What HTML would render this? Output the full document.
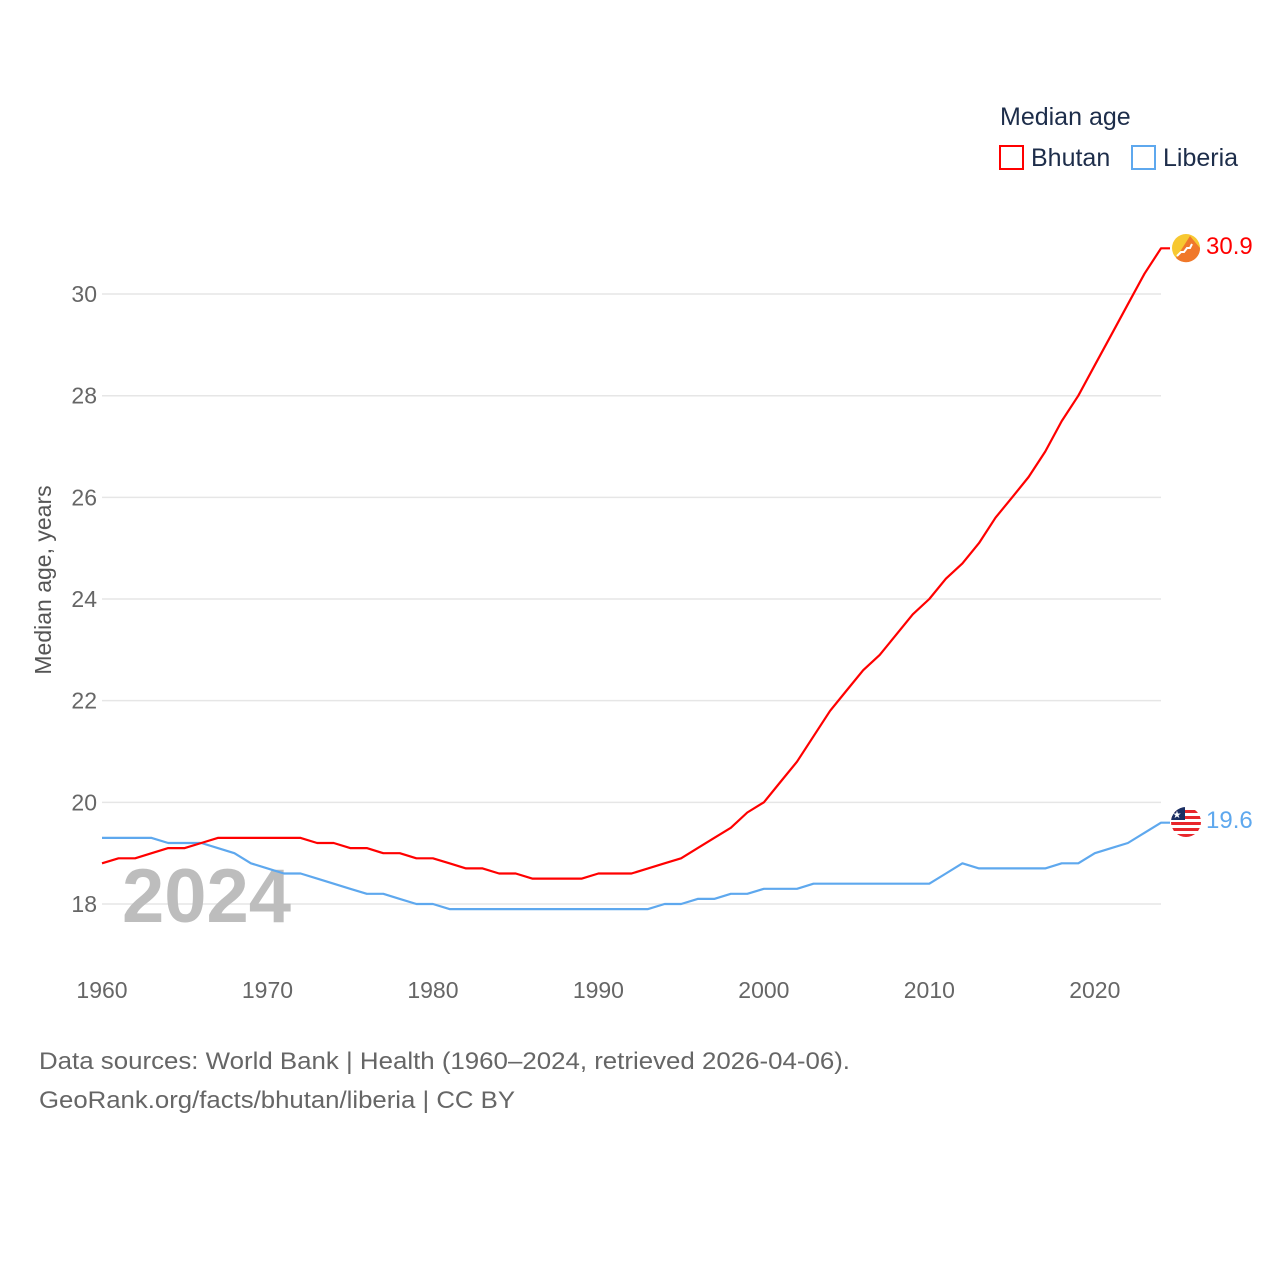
<!DOCTYPE html>
<html><head><meta charset="utf-8">
<style>
body{margin:0;background:#fff;}
svg{display:block;font-family:"Liberation Sans",sans-serif;}
</style></head>
<body>
<svg id="chart" width="1280" height="1280" viewBox="0 0 1280 1280" xmlns="http://www.w3.org/2000/svg">
<g>
<text x="1000" y="125" font-size="25" fill="#1d2d4a">Median age</text>
<g>
<rect x="1000" y="146" width="23" height="23" fill="none" stroke="#f00" stroke-width="2"/>
<text x="1031" y="166" font-size="25" fill="#1d2d4a">Bhutan</text></g>
<g>
<rect x="1132" y="146" width="23" height="23" fill="none" stroke="#5ea8ee" stroke-width="2"/>
<text x="1163" y="166" font-size="25" fill="#1d2d4a">Liberia</text></g>
</g>
<g id="grid"></g>
<text x="122" y="922" font-size="76" font-weight="bold" fill="#bdbdbd">2024</text>
<g id="series"></g>
<text transform="translate(51,580) rotate(-90)" text-anchor="middle" font-size="23" fill="#555">Median age, years</text>
<g>
<circle cx="1186" cy="248" r="14" fill="#f7c831"/>
<path d="M1200 248 A14 14 0 0 1 1176 258 L1190 236 Z" fill="#f0782a"/>
<path d="M1177 256 l4-4 h3 l3-4 h3 l2-4" stroke="#fff" stroke-width="2" fill="none"/>
</g>
<g>
<clipPath id="lc"><circle cx="1186" cy="822" r="15"/></clipPath>
<g clip-path="url(#lc)">
<rect x="1170" y="806" width="32" height="32" fill="#fff"/>
<rect x="1170" y="810" width="32" height="3" fill="#e8262b"/>
<rect x="1170" y="816" width="32" height="3" fill="#e8262b"/>
<rect x="1170" y="822" width="32" height="3" fill="#e8262b"/>
<rect x="1170" y="828" width="32" height="3" fill="#e8262b"/>
<rect x="1170" y="834" width="32" height="3" fill="#e8262b"/>
<rect x="1170" y="806" width="15" height="14" fill="#1b2f63"/>
<text x="1177" y="818" font-size="10" fill="#fff" text-anchor="middle">★</text>
</g></g>
<text x="1206" y="254" font-size="24" fill="#f00">30.9</text>
<text x="1206" y="828" font-size="24" fill="#5ea8ee">19.6</text>
<g font-size="24" fill="#666">
<text x="39" y="1069" textLength="811" lengthAdjust="spacingAndGlyphs">Data sources: World Bank | Health (1960–2024, retrieved 2026-04-06).</text>
<text x="39" y="1108" textLength="476" lengthAdjust="spacingAndGlyphs">GeoRank.org/facts/bhutan/liberia | CC BY</text>
</g>
</svg>
<script>
const years = [];
for (let y = 1960; y <= 2024; y++) years.push(y);
const bhutan = [18.8,18.9,18.9,19.0,19.1,19.1,19.2,19.3,19.3,19.3,19.3,19.3,19.3,19.2,19.2,19.1,19.1,19.0,19.0,18.9,18.9,18.8,18.7,18.7,18.6,18.6,18.5,18.5,18.5,18.5,18.6,18.6,18.6,18.7,18.8,18.9,19.1,19.3,19.5,19.8,20.0,20.4,20.8,21.3,21.8,22.2,22.6,22.9,23.3,23.7,24.0,24.4,24.7,25.1,25.6,26.0,26.4,26.9,27.5,28.0,28.6,29.2,29.8,30.4,30.9];
const liberia = [19.3,19.3,19.3,19.3,19.2,19.2,19.2,19.1,19.0,18.8,18.7,18.6,18.6,18.5,18.4,18.3,18.2,18.2,18.1,18.0,18.0,17.9,17.9,17.9,17.9,17.9,17.9,17.9,17.9,17.9,17.9,17.9,17.9,17.9,18.0,18.0,18.1,18.1,18.2,18.2,18.3,18.3,18.3,18.4,18.4,18.4,18.4,18.4,18.4,18.4,18.4,18.6,18.8,18.7,18.7,18.7,18.7,18.7,18.8,18.8,19.0,19.1,19.2,19.4,19.6];
const yTicks = [18,20,22,24,26,28,30];
const xTicks = [1960,1970,1980,1990,2000,2010,2020];

const X0 = 102, X1 = 1161;
const xs = yr => X0 + (yr - 1960) * (X1 - X0) / 64;
const ys = v => 904 - (v - 18) * 50.83;
const NS = "http://www.w3.org/2000/svg";
const grid = document.getElementById('grid');
const series = document.getElementById('series');

yTicks.forEach(t => {
  const l = document.createElementNS(NS, 'line');
  
  
  l.setAttribute('x1', X0); l.setAttribute('x2', X1);
  l.setAttribute('y1', ys(t)); l.setAttribute('y2', ys(t));
  l.setAttribute('stroke', '#e6e6e6'); l.setAttribute('stroke-width', '1.5');
  grid.appendChild(l);
  const tx = document.createElementNS(NS, 'text');
  
  
  tx.setAttribute('x', 97); tx.setAttribute('y', ys(t) + 8);
  tx.setAttribute('text-anchor', 'end'); tx.setAttribute('font-size', '23'); tx.setAttribute('fill', '#666');
  tx.textContent = t;
  grid.appendChild(tx);
});
xTicks.forEach(t => {
  const tx = document.createElementNS(NS, 'text');
  
  
  tx.setAttribute('x', xs(t)); tx.setAttribute('y', 998);
  tx.setAttribute('text-anchor', 'middle'); tx.setAttribute('font-size', '23'); tx.setAttribute('fill', '#666');
  tx.textContent = t;
  grid.appendChild(tx);
});
function drawLine(vals, color, name) {
  let d = vals.map((v, i) => (i ? 'L' : 'M') + xs(years[i]).toFixed(1) + ' ' + ys(v).toFixed(1)).join(' ');
  d += ' L' + (xs(years[years.length - 1]) + 9).toFixed(1) + ' ' + ys(vals[vals.length - 1]).toFixed(1);
  const p = document.createElementNS(NS, 'path');
  
  
  p.setAttribute('d', d); p.setAttribute('fill', 'none');
  p.setAttribute('stroke', color); p.setAttribute('stroke-width', '2.2');
  p.setAttribute('stroke-linejoin', 'round');
  series.appendChild(p);
}
drawLine(liberia, '#5ea8ee', 'liberia-line');
drawLine(bhutan, '#f00', 'bhutan-line');
</script>
</body></html>
